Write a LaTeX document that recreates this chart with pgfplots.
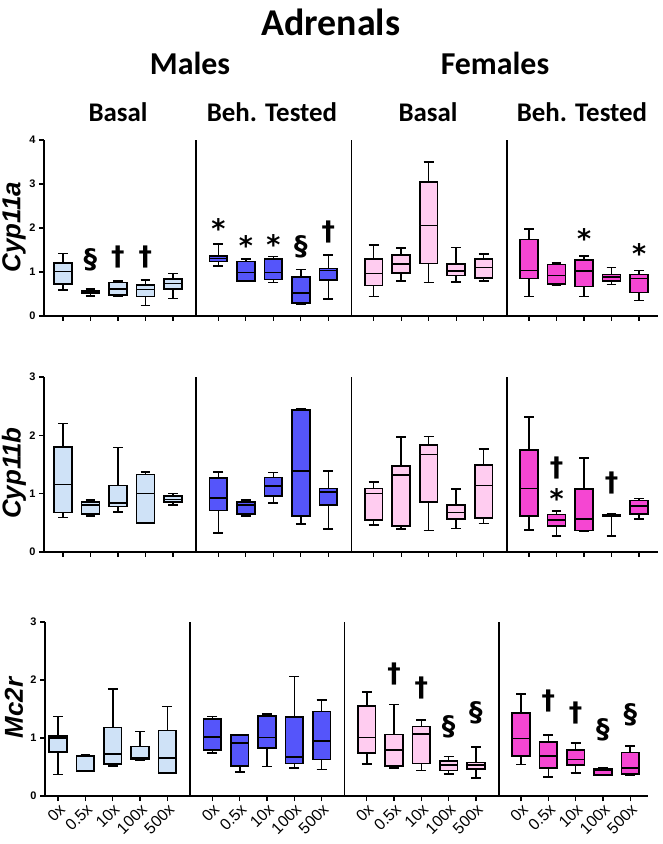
\documentclass[border=0pt]{standalone}
\usepackage{pgfplots}
\pgfplotsset{compat=1.18}
\usepgfplotslibrary{statistics}
\usepackage{fontspec}
\setmainfont{Liberation Sans}
\newfontfamily\calib{Carlito}
\newfontfamily\dejab{DejaVu Sans}
\definecolor{lblue}{RGB}{207,226,247}
\definecolor{dblue}{RGB}{85,85,250}
\definecolor{lpink}{RGB}{255,204,240}
\definecolor{mag}{RGB}{245,70,210}
\newcommand\bx[7]{\addplot[boxplot prepared={draw position=#1, lower whisker=#2, lower quartile=#3, median=#4, upper quartile=#5, upper whisker=#6}, fill=#7, draw=black, line width=1.6pt] coordinates {};}
\newcommand\ann{\dejab\fontsize{27}{27}\selectfont\bfseries}
\newcommand\xl[1]{\fontsize{16}{16}\selectfont #1}
\pgfplotsset{
  rowstyle/.style={
    scale only axis, width=614bp, xmin=-0.69, xmax=21.64, ymin=0,
    axis lines=left, axis line style={-, line width=1.6pt},
    anchor=south west, clip=false,
    boxplot/draw direction=y,
    boxplot/box extend=0.65, boxplot/whisker extend=0.36,
    xtick={0,1,2,3,4,5.65,6.65,7.65,8.65,9.65,11.3,12.3,13.3,14.3,15.3,16.95,17.95,18.95,19.95,20.95},
    xticklabels={},
    tick align=outside, major tick length=5bp,
    every tick/.style={black, line width=1.3pt},
    yticklabel style={font=\fontsize{11}{11}\selectfont\bfseries},
    /pgf/number format/assume math mode=true,
    extra x ticks={4.84,10.49,16.14}, extra x tick labels={},
    extra x tick style={grid=major, major grid style={black, line width=1.6pt}, major tick length=0pt},
  }
}
\begin{document}
\begin{tikzpicture}
\path[use as bounding box] (0,0) rectangle (663bp,844bp);
% titles
\node[font=\calib\fontsize{38}{38}\selectfont\bfseries] at (331bp,822bp) {Adrenals};
\node[font=\calib\fontsize{32}{32}\selectfont\bfseries, anchor=base] at (190bp,769bp) {Males};
\node[font=\calib\fontsize{32}{32}\selectfont\bfseries, anchor=base] at (495bp,769bp) {Females};
\node[font=\calib\fontsize{27}{27}\selectfont\bfseries, anchor=base] at (118bp,722bp) {Basal};
\node[font=\calib\fontsize{27}{27}\selectfont\bfseries, anchor=base] at (272bp,722bp) {Beh. Tested};
\node[font=\calib\fontsize{27}{27}\selectfont\bfseries, anchor=base] at (428bp,722bp) {Basal};
\node[font=\calib\fontsize{27}{27}\selectfont\bfseries, anchor=base] at (582bp,722bp) {Beh. Tested};
\node[rotate=90, font=\fontsize{26}{26}\selectfont\bfseries\itshape] at (14bp,617bp) {Cyp11a};
\node[rotate=90, font=\fontsize{26}{26}\selectfont\bfseries\itshape] at (14bp,371bp) {Cyp11b};
\node[rotate=90, font=\fontsize{26}{26}\selectfont\bfseries\itshape] at (14bp,136bp) {Mc2r};

% Row 1
\begin{axis}[rowstyle, at={(44bp,528bp)}, height=176bp, ymax=4, ytick={0,1,2,3,4}]
\bx{0}{0.59}{0.73}{1.01}{1.20}{1.42}{lblue}
\bx{1}{0.45}{0.52}{0.55}{0.58}{0.61}{lblue}
\bx{2}{0.44}{0.48}{0.62}{0.76}{0.79}{lblue}
\bx{3}{0.24}{0.44}{0.60}{0.70}{0.82}{lblue}
\bx{4}{0.40}{0.61}{0.74}{0.84}{0.97}{lblue}
\bx{5.65}{1.14}{1.24}{1.31}{1.36}{1.64}{dblue}
\bx{6.65}{0.79}{0.79}{0.99}{1.24}{1.29}{dblue}
\bx{7.65}{0.76}{0.83}{0.99}{1.30}{1.35}{dblue}
\bx{8.65}{0.27}{0.29}{0.52}{0.89}{1.06}{dblue}
\bx{9.65}{0.39}{0.82}{1.03}{1.08}{1.39}{dblue}
\bx{11.3}{0.44}{0.69}{0.97}{1.30}{1.61}{lpink}
\bx{12.3}{0.80}{0.98}{1.18}{1.39}{1.54}{lpink}
\bx{13.3}{0.76}{1.19}{2.06}{3.04}{3.50}{lpink}
\bx{14.3}{0.77}{0.92}{1.02}{1.18}{1.56}{lpink}
\bx{15.3}{0.80}{0.87}{1.10}{1.30}{1.41}{lpink}
\bx{16.95}{0.44}{0.85}{1.03}{1.74}{1.98}{mag}
\bx{17.95}{0.69}{0.73}{0.92}{1.17}{1.21}{mag}
\bx{18.95}{0.44}{0.67}{1.02}{1.27}{1.36}{mag}
\bx{19.95}{0.72}{0.79}{0.89}{0.94}{1.10}{mag}
\bx{20.95}{0.35}{0.53}{0.85}{0.94}{1.03}{mag}
\node[font=\ann] at (axis cs:1,1.27) {§};
\node[font=\ann] at (axis cs:2,1.35) {†};
\node[font=\ann] at (axis cs:3,1.35) {†};
\node[font=\ann] at (axis cs:5.65,1.98) {*};
\node[font=\ann] at (axis cs:6.65,1.60) {*};
\node[font=\ann] at (axis cs:7.65,1.63) {*};
\node[font=\ann] at (axis cs:8.65,1.58) {§};
\node[font=\ann] at (axis cs:9.65,1.90) {†};
\node[font=\ann] at (axis cs:18.95,1.77) {*};
\node[font=\ann] at (axis cs:20.95,1.41) {*};
\end{axis}

% Row 2
\begin{axis}[rowstyle, at={(44bp,292bp)}, height=175bp, ymax=3, ytick={0,1,2,3}]
\bx{0}{0.59}{0.68}{1.16}{1.80}{2.20}{lblue}
\bx{1}{0.62}{0.65}{0.81}{0.86}{0.89}{lblue}
\bx{2}{0.69}{0.78}{0.84}{1.14}{1.79}{lblue}
\bx{3}{0.49}{0.50}{1.00}{1.33}{1.37}{lblue}
\bx{4}{0.81}{0.86}{0.90}{0.96}{1.00}{lblue}
\bx{5.65}{0.33}{0.71}{0.93}{1.27}{1.37}{dblue}
\bx{6.65}{0.62}{0.65}{0.81}{0.86}{0.89}{dblue}
\bx{7.65}{0.84}{0.96}{1.13}{1.28}{1.36}{dblue}
\bx{8.65}{0.48}{0.62}{1.39}{2.43}{2.45}{dblue}
\bx{9.65}{0.39}{0.81}{1.03}{1.09}{1.39}{dblue}
\bx{11.3}{0.46}{0.55}{1.00}{1.09}{1.20}{lpink}
\bx{12.3}{0.39}{0.45}{1.32}{1.47}{1.97}{lpink}
\bx{13.3}{0.37}{0.86}{1.67}{1.83}{1.98}{lpink}
\bx{14.3}{0.40}{0.57}{0.68}{0.81}{1.08}{lpink}
\bx{15.3}{0.49}{0.58}{1.14}{1.49}{1.77}{lpink}
\bx{16.95}{0.38}{0.62}{1.09}{1.75}{2.31}{mag}
\bx{17.95}{0.27}{0.45}{0.55}{0.64}{0.70}{mag}
\bx{18.95}{0.35}{0.37}{0.57}{1.08}{1.61}{mag}
\bx{19.95}{0.27}{0.61}{0.63}{0.64}{0.66}{mag}
\bx{20.95}{0.57}{0.65}{0.79}{0.88}{0.92}{mag}
\node[font=\ann] at (axis cs:17.95,1.44) {†};
\node[font=\ann] at (axis cs:17.95,0.91) {*};
\node[font=\ann] at (axis cs:19.95,1.18) {†};
\end{axis}

% Row 3
\begin{axis}[rowstyle, at={(45bp,48bp)}, height=174bp, width=603bp, xmin=-0.48, xmax=21.6, ymax=3, ytick={0,1,2,3},
  xticklabels={\xl{0x},\xl{0.5x},\xl{10x},\xl{100x},\xl{500x},\xl{0x},\xl{0.5x},\xl{10x},\xl{100x},\xl{500x},\xl{0x},\xl{0.5x},\xl{10x},\xl{100x},\xl{500x},\xl{0x},\xl{0.5x},\xl{10x},\xl{100x},\xl{500x}},
  xticklabel style={rotate=45, anchor=north east, inner sep=1pt}]
\bx{0}{0.37}{0.76}{1.00}{1.03}{1.37}{lblue}
\bx{1}{0.42}{0.42}{0.44}{0.69}{0.71}{lblue}
\bx{2}{0.52}{0.55}{0.72}{1.18}{1.84}{lblue}
\bx{3}{0.61}{0.64}{0.66}{0.85}{1.11}{lblue}
\bx{4}{0.39}{0.40}{0.66}{1.13}{1.54}{lblue}
\bx{5.65}{0.74}{0.79}{1.02}{1.33}{1.37}{dblue}
\bx{6.65}{0.41}{0.52}{0.91}{1.05}{1.06}{dblue}
\bx{7.65}{0.51}{0.83}{1.01}{1.38}{1.41}{dblue}
\bx{8.65}{0.48}{0.56}{0.67}{1.36}{2.06}{dblue}
\bx{9.65}{0.46}{0.63}{0.95}{1.46}{1.66}{dblue}
\bx{11.3}{0.55}{0.74}{1.01}{1.55}{1.79}{lpink}
\bx{12.3}{0.48}{0.52}{0.79}{1.06}{1.58}{lpink}
\bx{13.3}{0.44}{0.56}{1.07}{1.20}{1.31}{lpink}
\bx{14.3}{0.38}{0.44}{0.53}{0.60}{0.68}{lpink}
\bx{15.3}{0.31}{0.47}{0.53}{0.58}{0.84}{lpink}
\bx{16.95}{0.54}{0.69}{0.99}{1.43}{1.76}{mag}
\bx{17.95}{0.33}{0.48}{0.69}{0.93}{1.05}{mag}
\bx{18.95}{0.40}{0.53}{0.63}{0.79}{0.91}{mag}
\bx{19.95}{0.35}{0.36}{0.44}{0.47}{0.49}{mag}
\bx{20.95}{0.36}{0.38}{0.48}{0.75}{0.86}{mag}
\node[font=\ann] at (axis cs:12.3,2.10) {†};
\node[font=\ann] at (axis cs:13.3,1.86) {†};
\node[font=\ann] at (axis cs:14.3,1.20) {§};
\node[font=\ann] at (axis cs:15.3,1.43) {§};
\node[font=\ann] at (axis cs:17.95,1.63) {†};
\node[font=\ann] at (axis cs:18.95,1.43) {†};
\node[font=\ann] at (axis cs:19.95,1.14) {§};
\node[font=\ann] at (axis cs:20.95,1.40) {§};
\end{axis}
\end{tikzpicture}
\end{document}
